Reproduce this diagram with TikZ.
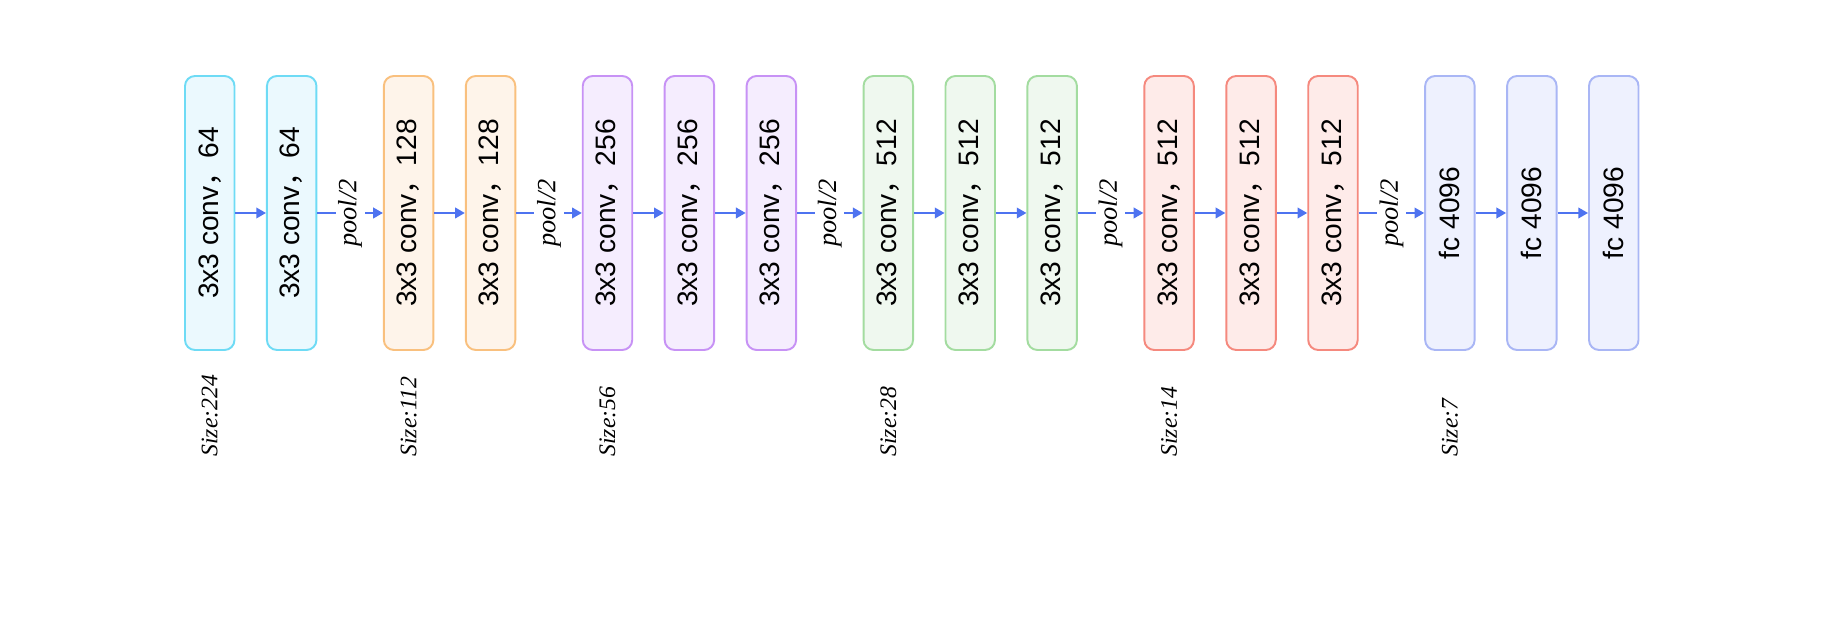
\documentclass[tikz,border=0pt]{standalone}
\usepackage{fontspec}
\setmainfont{Liberation Sans}
\newfontfamily\cjk{Noto Sans CJK SC}
\newfontfamily\lblfont{Liberation Serif}
\usepackage{xcolor}
\usepackage{graphicx}
\usepackage{tikz}
\usetikzlibrary{arrows.meta, positioning}

\definecolor{cyanline}{HTML}{6EDBF5}
\definecolor{cyanfill}{HTML}{EBF9FE}
\definecolor{orangeline}{HTML}{F9C07E}
\definecolor{orangefill}{HTML}{FEF4EA}
\definecolor{purpleline}{HTML}{C792F5}
\definecolor{purplefill}{HTML}{F5EDFE}
\definecolor{greenline}{HTML}{A3DCA0}
\definecolor{greenfill}{HTML}{EFF8EF}
\definecolor{redline}{HTML}{F5897E}
\definecolor{redfill}{HTML}{FEEBE9}
\definecolor{blueline}{HTML}{A9B6F5}
\definecolor{bluefill}{HTML}{EEF1FE}
\definecolor{arrowblue}{HTML}{4E73F0}

\newcommand{\convtxt}[1]{\rotatebox{90}{3x3 conv{\cjk ，}#1}}
\newcommand{\fctxt}{\rotatebox{90}{fc 4096}}

\tikzset{
	box/.style={rectangle, draw, rounded corners=0.2cm, line width=1.1pt,
		minimum width=0.99cm, minimum height=5.48cm, inner sep=0pt,
		font=\fontsize{16}{19}\selectfont},
	cyanbox/.style={box, draw=cyanline, fill=cyanfill},
	orangebox/.style={box, draw=orangeline, fill=orangefill},
	purplebox/.style={box, draw=purpleline, fill=purplefill},
	greenbox/.style={box, draw=greenline, fill=greenfill},
	redbox/.style={box, draw=redline, fill=redfill},
	bluebox/.style={box, draw=blueline, fill=bluefill},
	arr/.style={-{Triangle[length=5.5pt, width=6pt]}, line width=1.1pt, draw=arrowblue},
	poollbl/.style={rotate=90, fill=white, inner sep=1.5pt,
		font=\lblfont\itshape\fontsize{15}{18}\selectfont},
	sizelbl/.style={rotate=90, anchor=west, inner sep=0pt,
		font=\lblfont\itshape\fontsize{13.5}{16}\selectfont},
}

\begin{document}
\begin{tikzpicture}[node distance=0.61cm]
				\useasboundingbox (0,0) rectangle (36.78,12.68);
				
				\node[cyanbox] (conv1a) at (4.195,8.42) {\convtxt{64}};
				\node[cyanbox, right=of conv1a] (conv1b) {\convtxt{64}};
				
				\node[orangebox, right=1.31cm of conv1b] (conv2a) {\convtxt{128}};
				\node[orangebox, right=of conv2a] (conv2b) {\convtxt{128}};
				
				\node[purplebox, right=1.31cm of conv2b] (conv3a) {\convtxt{256}};
				\node[purplebox, right=of conv3a] (conv3b) {\convtxt{256}};
				\node[purplebox, right=of conv3b] (conv3c) {\convtxt{256}};
				
				\node[greenbox, right=1.31cm of conv3c] (conv4a) {\convtxt{512}};
				\node[greenbox, right=of conv4a] (conv4b) {\convtxt{512}};
				\node[greenbox, right=of conv4b] (conv4c) {\convtxt{512}};
				
				\node[redbox, right=1.31cm of conv4c] (conv5a) {\convtxt{512}};
				\node[redbox, right=of conv5a] (conv5b) {\convtxt{512}};
				\node[redbox, right=of conv5b] (conv5c) {\convtxt{512}};
				
				\node[bluebox, right=1.31cm of conv5c] (fc1) {\fctxt};
				\node[bluebox, right=of fc1] (fc2) {\fctxt};
				\node[bluebox, right=of fc2] (fc3) {\fctxt};
				
				\draw[arr] (conv1a) -- (conv1b);
				\draw[arr] (conv1b) -- node[poollbl] {pool/2} (conv2a);
				\draw[arr] (conv2a) -- (conv2b);
				\draw[arr] (conv2b) -- node[poollbl] {pool/2} (conv3a);
				\draw[arr] (conv3a) -- (conv3b);
				\draw[arr] (conv3b) -- (conv3c);
				\draw[arr] (conv3c) -- node[poollbl] {pool/2} (conv4a);
				\draw[arr] (conv4a) -- (conv4b);
				\draw[arr] (conv4b) -- (conv4c);
				\draw[arr] (conv4c) -- node[poollbl] {pool/2} (conv5a);
				\draw[arr] (conv5a) -- (conv5b);
				\draw[arr] (conv5b) -- (conv5c);
				\draw[arr] (conv5c) -- node[poollbl] {pool/2} (fc1);
				\draw[arr] (fc1) -- (fc2);
				\draw[arr] (fc2) -- (fc3);
				
				\node[sizelbl] (size224) at ([yshift=-2.12cm]conv1a.south) {Size:224};
				\node[sizelbl] (size112) at ([yshift=-2.12cm]conv2a.south) {Size:112};
				\node[sizelbl] (size56) at ([yshift=-2.12cm]conv3a.south) {Size:56};
				\node[sizelbl] (size28) at ([yshift=-2.12cm]conv4a.south) {Size:28};
				\node[sizelbl] (size14) at ([yshift=-2.12cm]conv5a.south) {Size:14};
				\node[sizelbl] (size7) at ([yshift=-2.12cm]fc1.south) {Size:7};
				
			\end{tikzpicture}
\end{document}
